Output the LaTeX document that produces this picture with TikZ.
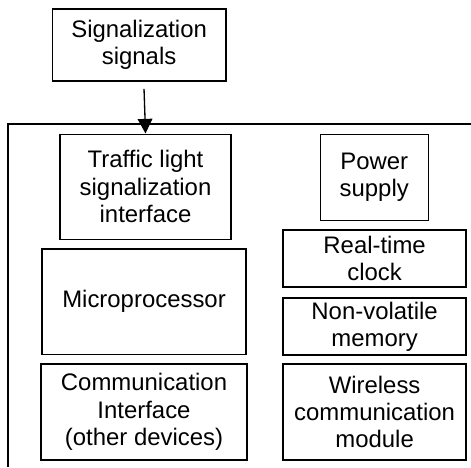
\documentclass[tikz,border=0pt]{standalone}
\usepackage{fontspec}
\setmainfont{Liberation Sans}
\usepackage{tikz}
\usetikzlibrary{calc}
\usetikzlibrary{arrows.meta}
\usetikzlibrary{positioning}
\definecolor{boxline}{RGB}{0, 0, 0}

\begin{document}
\begin{tikzpicture}[blockbox/.style={draw=boxline, line width=1pt, inner sep=0pt, align=center,
                                     font=\fontsize{18}{20.6}\selectfont}]
            \useasboundingbox                                              ( 0.00, 0.00) rectangle (12.46,12.36);
            \node[blockbox, minimum width=4.60cm, minimum height=1.91cm] (sig)      at ( 3.68,11.17) {Signalization\\signals};
            \node[blockbox, minimum width=4.52cm, minimum height=2.78cm] (traffic)  at ( 3.85, 7.42) {Traffic light\\signalization\\interface};
            \node[blockbox, minimum width=5.40cm, minimum height=2.78cm] (micro)    at ( 3.81, 4.38) {Microprocessor};
            \node[blockbox, minimum width=5.45cm, minimum height=2.54cm] (comm)     at ( 3.81, 1.46) {Communication\\Interface\\(other devices)};
            \node[blockbox, minimum width=2.86cm, minimum height=2.28cm] (power)    at ( 9.90, 7.67) {Power\\supply};
            \node[blockbox, minimum width=4.84cm, minimum height=1.51cm] (clock)    at ( 9.91, 5.52) {Real-time\\clock};
            \node[blockbox, minimum width=4.84cm, minimum height=1.51cm] (memory)   at ( 9.91, 3.72) {Non-volatile\\memory};
            \node[blockbox, minimum width=4.84cm, minimum height=2.54cm] (wireless) at ( 9.91, 1.46) {Wireless\\communication\\module};
            \draw[boxline, line width=1pt] ( 0.21, 0.00) -- ( 0.21, 9.08) -- (12.46, 9.08);
            \coordinate (sigout) at ($(sig.south)+(0.13,-0.19)$);
            \draw[boxline, line width=1pt, -{Triangle[length=11pt, width=11pt]}] (sigout) -- (traffic.north);
        \end{tikzpicture}
\end{document}
